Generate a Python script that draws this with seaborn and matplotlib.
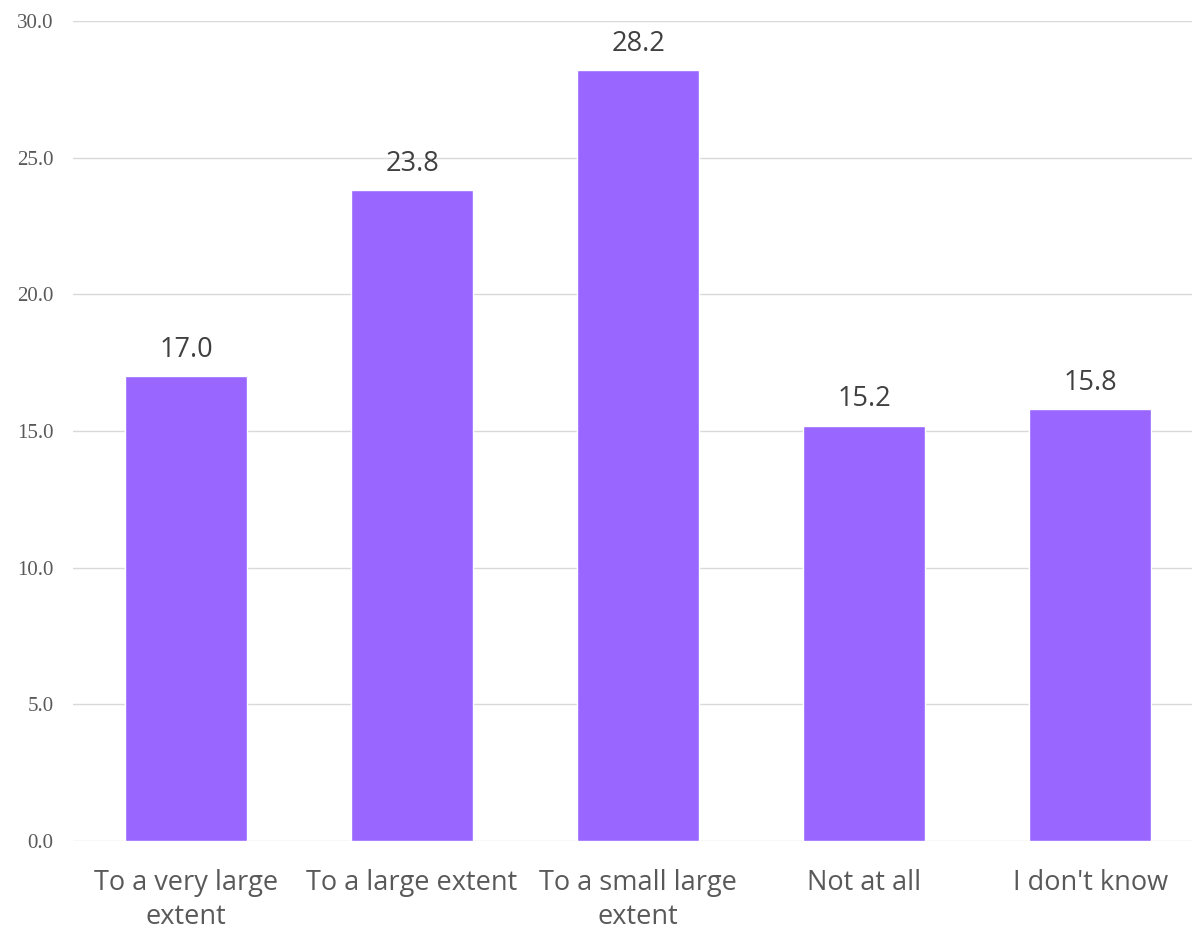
import pandas as pd
import matplotlib.pyplot as plt
import seaborn as sns

categories = ['To a very large\nextent', 'To a large extent', 'To a small large\nextent',
              'Not at all', "I don't know"]
values = [17.0, 23.8, 28.2, 15.2, 15.8]
yticks = [0, 5, 10, 15, 20, 25, 30]

df = pd.DataFrame({'category': categories, 'value': values})

sns.set_style('white')
plt.rcParams['font.family'] = ['Open Sans', 'DejaVu Sans']

fig = plt.figure(figsize=(11.92, 9.34), dpi=100)
ax = fig.add_axes([73 / 1192, (934 - 841) / 934, (1192 - 73) / 1192, (841 - 21) / 934])

sns.barplot(data=df, x='category', y='value', color='#9966FF', saturation=1,
            width=0.54, ax=ax, zorder=3)

ax.set_ylim(0, 30)
ax.set_xlim(-0.5, 4.45)
ax.set_yticks(yticks)
ax.set_yticklabels([f'{t:.1f}' for t in yticks], family='Liberation Serif',
                   fontsize=15, color='#595959')
ax.tick_params(axis='y', length=0, pad=14)
ax.tick_params(axis='x', length=0, pad=20, labelsize=19.5, labelcolor='#595959')
for lbl in ax.get_xticklabels():
    lbl.set_linespacing(1.32)
ax.grid(axis='y', color='#d9d9d9', linewidth=1, zorder=0)
ax.set_axisbelow(True)
for s in ax.spines.values():
    s.set_visible(False)
ax.set_xlabel('')
ax.set_ylabel('')

for c in ax.containers:
    ax.bar_label(c, labels=[f'{v:.1f}' for v in values], padding=9,
                 fontsize=19.5, color='#404040')

fig.savefig('out.png', dpi=100)
